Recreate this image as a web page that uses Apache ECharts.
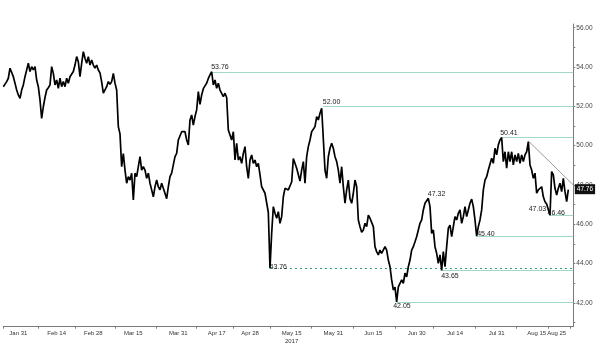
<!DOCTYPE html>
<html><head><meta charset="utf-8">
<script src="https://cdn.jsdelivr.net/npm/echarts@6/dist/echarts.min.js"></script>
<style>html,body{margin:0;padding:0;background:#fff;}#c{width:600px;height:356px;}</style>
</head><body><div id="c"></div>
<script>
// price readings, one per bar (about 0.44 trading day each), Jan 26 - Aug 29 2017
const prices = [
53.0,52.92,53.26,53.43,53.94,53.85,53.51,53.18,52.83,52.58,52.41,52.83,53.09,53.51,53.85,54.2,53.77,54.02,53.85,54.02,
53.34,53.0,52.33,51.39,51.98,52.45,52.83,52.95,53.09,54.02,53.68,53.09,53.34,52.92,53.43,53.0,53.26,53.0,53.43,53.18,
53.51,53.6,53.77,54.1,54.53,54.27,53.51,54.19,54.78,54.45,54.19,54.53,54.1,54.36,54.1,53.94,54.1,53.85,53.7,53.25,
52.67,52.75,53.0,53.26,53.12,53.26,53.68,53.18,52.83,50.97,50.6,48.93,49.6,48.76,48.09,48.42,48.25,48.6,47.24,48.6,
48.42,48.93,49.44,48.76,48.93,48.76,48.34,48.6,48.09,47.75,47.4,47.91,48.25,47.91,47.75,48.09,47.83,47.58,47.3,47.91,
48.42,48.6,48.51,49.44,49.61,50.29,50.29,50.71,50.63,50.71,50.29,50.04,51.31,51.56,51.05,51.48,51.82,52.75,52.1,52.58,
52.9,52.92,53.18,53.42,53.6,53.76,53.09,53.34,52.92,53.18,52.83,52.75,52.49,52.67,52.45,50.8,50.8,50.29,50.71,49.27,
50.12,49.27,49.44,49.1,49.61,49.95,48.93,48.34,49.27,49.53,49.1,49.27,48.93,49.1,48.51,47.91,48.0,47.58,47.66,46.6,
43.76,45.54,46.9,46.56,46.31,46.64,46.05,46.39,47.4,47.83,47.91,47.75,47.8,48.15,49.35,49.27,48.85,48.85,48.2,48.76,
49.19,48.09,49.44,49.95,50.29,50.71,50.63,50.97,51.48,51.31,51.65,51.9,52.0,48.76,48.34,49.44,49.87,50.12,49.87,49.44,
49.19,48.76,48.09,48.93,47.91,47.07,47.75,48.25,47.3,47.07,47.58,48.25,47.91,46.22,45.88,45.6,45.71,46.05,45.88,46.47,
46.31,46.39,45.88,44.86,44.61,44.44,44.69,44.52,44.61,44.86,44.69,44.18,43.84,43.17,42.66,42.8,42.05,42.82,42.91,43.17,
43.0,43.51,43.33,43.84,44.18,44.69,44.86,45.11,45.37,45.29,46.05,46.22,46.73,47.07,47.15,47.32,46.9,45.54,45.71,44.86,
44.52,44.01,44.44,43.65,44.61,43.84,44.86,45.8,45.96,45.37,45.88,46.39,46.22,46.56,46.73,46.05,46.39,46.9,46.39,46.73,
47.07,47.28,46.9,46.22,45.4,45.88,46.22,46.73,47.75,48.25,48.42,48.76,48.85,49.36,49.1,49.87,49.53,50.04,50.29,50.41,
49.19,49.69,48.85,49.69,49.19,49.69,49.02,49.53,49.19,49.61,49.1,49.53,49.19,49.53,49.69,50.2,49.02,48.76,48.34,48.6,
47.58,47.75,47.66,47.91,47.4,47.15,47.03,47.07,46.46,48.68,48.51,47.83,47.49,47.83,48.09,47.66,48.34,47.66,47.15,47.76
];
const extraSlots = 3;                       // empty bars up to the price axis
const tickLabels = ['Jan 31','Feb 14','Feb 28','Mar 15','Mar 31','Apr 17','Apr 28','May 15\n2017','May 31','Jun 15','Jun 30','Jul 14','Jul 31','Aug 15','Aug 25'];
const tickLabelBars = [9,32,54,78,105,128,148,173,198,222,248,271,296,320,332];
const tickBars = [0,21,43,67,92,116,138,160,185,210,235,258,283,308,327,340];
const levels = [53.76, 52.00, 50.41, 46.46, 45.40, 43.65, 42.05];
const dashedLevels = [43.76];
const pointLabels = [53.76, 52.00, 50.41, 47.32, 47.03, 46.46, 45.40, 43.76, 43.65, 42.05];
const trendStart = [315, 50.24];
const trendEnd = [342, 48.00];
const lastPrice = 47.76;
const yLabelValues = [42,44,46,48,50,52,54,56];
const yTickValues = [41,42,43,44,45,46,47,48,49,50,51,52,53,54,55,56];
const yMin = 40.79, yMax = 56.19;

const FONT = 'Liberation Sans, Arial, sans-serif';
const nBars = prices.length + extraSlots;
const bars = Array.from({length: nBars}, (_, i) => String(i));
const lastBar = nBars - 1;
const seriesData = prices.concat(Array(extraSlots).fill(null));

// label styling (offsets in px)
const labelStyle = {
  53.76: {dx: 0, dy: -4}, 52.00: {dx: 0, dy: -4}, 50.41: {dx: -1, dy: -4},
  47.32: {dx: 0, dy: -4}, 47.03: {dx: 0, dy: 6, align: 'right'},
  46.46: {dx: -2, dy: -2}, 45.40: {dx: 1, dy: -2}, 43.76: {dx: 0, dy: -1},
  43.65: {dx: 0, dy: 6}, 42.05: {dx: -3, dy: 5}
};
const idxOf = v => prices.findIndex(p => Math.abs(p - v) < 1e-9);

const solidGreen = '#9fd8c3';
const lineItems = [];
levels.forEach(v => {
  lineItems.push([{coord: [idxOf(v), v], lineStyle: {color: solidGreen, width: 1, type: 'solid'}},
                  {coord: [lastBar, v]}]);
});
dashedLevels.forEach(v => {
  lineItems.push([{coord: [idxOf(v), v], lineStyle: {color: '#2f9e6c', width: 1, type: [2, 3]}},
                  {coord: [lastBar, v]}]);
});
lineItems.push([{coord: trendStart, lineStyle: {color: '#9b9b9b', width: 1, type: 'solid'}},
                {coord: trendEnd}]);

const pointItems = pointLabels.map(v => {
  const s = labelStyle[v] || {dx: 0, dy: 0};
  return {
    coord: [idxOf(v), v], value: v,
    label: {show: true, position: [s.dx, s.dy], align: s.align || 'left', verticalAlign: 'middle',
            formatter: v.toFixed(2), color: '#1a1a1a', fontSize: 7, fontFamily: FONT}
  };
});
pointItems.push({
  coord: [lastBar, lastPrice], value: lastPrice,
  label: {show: true, position: [2, 0], align: 'left', verticalAlign: 'middle',
          formatter: lastPrice.toFixed(2), color: '#fff', backgroundColor: '#111',
          padding: [2, 2, 1, 2], fontSize: 6.5, fontFamily: FONT}
});

const chart = echarts.init(document.getElementById('c'), null, {renderer: 'canvas'});
chart.setOption({
  animation: false,
  backgroundColor: '#fff',
  grid: {left: 3.33, right: 26.67, top: 24, bottom: 29.3, containLabel: false},
  xAxis: {
    type: 'category', data: bars, boundaryGap: false,
    axisLine: {show: true, lineStyle: {color: '#7a7a7a', width: 1}},
    axisTick: {show: true, length: 2, interval: (i) => tickBars.includes(i), lineStyle: {color: '#7a7a7a'}},
    axisLabel: {
      show: true, interval: (i) => tickLabelBars.includes(i), hideOverlap: false,
      showMinLabel: true, showMaxLabel: true,
      formatter: (val, i) => { const k = tickLabelBars.indexOf(Number(val)); return k >= 0 ? tickLabels[k] : ''; },
      fontSize: 6, color: '#333', margin: 3, lineHeight: 8, fontFamily: FONT
    },
    splitLine: {show: false}
  },
  yAxis: {
    type: 'value', position: 'right', min: yMin, max: yMax, scale: true,
    axisLine: {show: true, lineStyle: {color: '#7a7a7a', width: 1}},
    axisTick: {show: true, length: 2, customValues: yTickValues, lineStyle: {color: '#7a7a7a'}},
    axisLabel: {show: true, customValues: yLabelValues, formatter: v => Number(v).toFixed(2),
                fontSize: 6.5, color: '#444', margin: 3, fontFamily: FONT},
    splitLine: {show: false}
  },
  series: [{
    type: 'line', data: seriesData, symbol: 'none', connectNulls: false,
    lineStyle: {color: '#000', width: 1.7}, z: 3,
    markLine: {silent: true, symbol: 'none', label: {show: false}, data: lineItems, z: 2},
    markPoint: {silent: true, symbol: 'circle', symbolSize: 1, itemStyle: {color: 'rgba(0,0,0,0)'}, data: pointItems, z: 5}
  }]
});
</script></body></html>
